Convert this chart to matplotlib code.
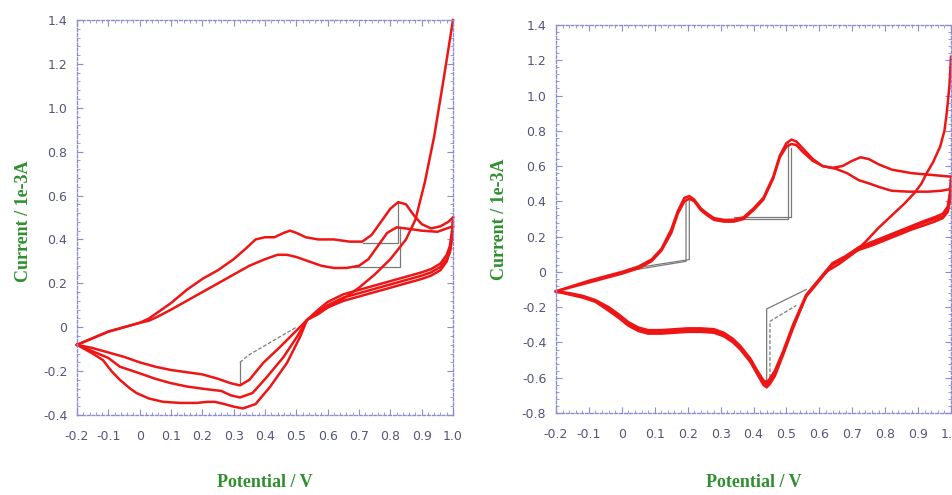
import matplotlib
matplotlib.use("Agg")
import matplotlib.pyplot as plt
from matplotlib.ticker import MultipleLocator, FuncFormatter

# ---------------- LEFT PANEL DATA ----------------
A_steep_x = [0.54, 0.60, 0.65, 0.70, 0.75, 0.80, 0.85, 0.88, 0.91, 0.94, 0.97, 1.00]
A_steep_y = [0.04, 0.09, 0.13, 0.18, 0.24, 0.31, 0.40, 0.49, 0.66, 0.87, 1.13, 1.40]

A_fwd1_x = [-0.2, -0.15, -0.1, -0.05, 0.0, 0.03, 0.06, 0.1, 0.15, 0.2, 0.25, 0.3, 0.34, 0.37,
            0.4, 0.43, 0.46, 0.48, 0.5, 0.53, 0.57, 0.62, 0.67, 0.71, 0.74, 0.77, 0.8, 0.825,
            0.85, 0.875, 0.9, 0.93, 0.96, 0.985, 1.0]
A_fwd1_y = [-0.08, -0.05, -0.02, 0.0, 0.02, 0.04, 0.07, 0.11, 0.17, 0.22, 0.26, 0.31, 0.36, 0.40,
            0.41, 0.41, 0.43, 0.44, 0.43, 0.41, 0.40, 0.40, 0.39, 0.39, 0.42, 0.48, 0.54, 0.57,
            0.56, 0.51, 0.47, 0.45, 0.46, 0.48, 0.50]

A_fwd2_x = [-0.2, -0.15, -0.1, -0.05, 0.0, 0.03, 0.06, 0.1, 0.15, 0.2, 0.25, 0.3, 0.35, 0.4,
            0.44, 0.47, 0.5, 0.54, 0.58, 0.62, 0.66, 0.7, 0.73, 0.76, 0.79, 0.82, 0.85, 0.9,
            0.95, 1.0]
A_fwd2_y = [-0.08, -0.05, -0.02, 0.0, 0.02, 0.03, 0.05, 0.08, 0.12, 0.16, 0.20, 0.24, 0.28, 0.31,
            0.33, 0.33, 0.32, 0.30, 0.28, 0.27, 0.27, 0.28, 0.31, 0.37, 0.43, 0.455, 0.45, 0.44,
            0.435, 0.46]

A_rev1_x = [1.0, 0.997, 0.99, 0.98, 0.96, 0.93, 0.9, 0.85, 0.8, 0.75, 0.7, 0.65, 0.6, 0.57,
            0.534, 0.502, 0.448, 0.394, 0.35, 0.32, 0.29, 0.25, 0.2, 0.15, 0.1, 0.05, 0.0,
            -0.05, -0.1, -0.15, -0.2]
A_rev1_y = [0.50, 0.44, 0.37, 0.33, 0.29, 0.265, 0.25, 0.23, 0.21, 0.19, 0.17, 0.15, 0.115, 0.08,
            0.033, -0.013, -0.09, -0.163, -0.24, -0.265, -0.255, -0.235, -0.215, -0.205, -0.195,
            -0.18, -0.16, -0.135, -0.115, -0.095, -0.08]

A_rev2_x = [1.0, 0.997, 0.99, 0.98, 0.96, 0.93, 0.9, 0.85, 0.8, 0.75, 0.7, 0.65, 0.6, 0.57,
            0.534, 0.502, 0.459, 0.406, 0.36, 0.32, 0.29, 0.26, 0.234, 0.2, 0.15, 0.097, 0.05,
            0.0, -0.063, -0.1, -0.15, -0.2]
A_rev2_y = [0.46, 0.40, 0.34, 0.31, 0.275, 0.25, 0.235, 0.215, 0.195, 0.175, 0.155, 0.135, 0.10,
            0.07, 0.033, -0.044, -0.136, -0.227, -0.30, -0.32, -0.31, -0.29, -0.286, -0.28,
            -0.27, -0.254, -0.235, -0.21, -0.18, -0.14, -0.11, -0.08]

A_rev3_x = [1.0, 0.997, 0.99, 0.98, 0.96, 0.93, 0.9, 0.85, 0.8, 0.75, 0.7, 0.65, 0.6, 0.57,
            0.534, 0.512, 0.47, 0.416, 0.37, 0.33, 0.3, 0.27, 0.24, 0.215, 0.183, 0.13, 0.075,
            0.03, -0.01, -0.03, -0.063, -0.09, -0.117, -0.15, -0.2]
A_rev3_y = [0.48, 0.42, 0.35, 0.30, 0.26, 0.235, 0.22, 0.20, 0.18, 0.16, 0.14, 0.12, 0.09, 0.06,
            0.033, -0.044, -0.163, -0.272, -0.35, -0.37, -0.362, -0.35, -0.34, -0.34, -0.345,
            -0.345, -0.34, -0.325, -0.30, -0.28, -0.24, -0.20, -0.15, -0.12, -0.08]

A_base1_x = [0.713, 0.825, 0.825]
A_base1_y = [0.384, 0.384, 0.57]
A_base2_x = [0.68, 0.830, 0.830]
A_base2_y = [0.275, 0.275, 0.455]
A_base3_x = [0.32, 0.32]
A_base3_y = [-0.265, -0.16]
A_base4_x = [0.32, 0.35, 0.50]
A_base4_y = [-0.16, -0.125, 0.0]

# ---------------- RIGHT PANEL DATA ----------------
B_steep_x = [0.62, 0.66, 0.70, 0.74, 0.78, 0.82, 0.86, 0.89, 0.91, 0.926, 0.945, 0.967, 0.98,
             0.987, 0.995, 1.0]
B_steep_y = [0.0, 0.045, 0.10, 0.17, 0.25, 0.32, 0.39, 0.45, 0.50, 0.56, 0.62, 0.71, 0.80,
             0.90, 1.05, 1.22]

B_fwd1_x = [-0.2, -0.15, -0.1, -0.05, 0.0, 0.05, 0.09, 0.12, 0.15, 0.17, 0.19, 0.205, 0.22,
            0.24, 0.26, 0.28, 0.31, 0.34, 0.37, 0.40, 0.43, 0.46, 0.48, 0.5, 0.515, 0.53,
            0.55, 0.58, 0.61, 0.64, 0.67, 0.7, 0.725, 0.75, 0.78, 0.82, 0.88, 0.94, 1.0]
B_fwd1_y = [-0.11, -0.08, -0.05, -0.025, 0.0, 0.03, 0.07, 0.13, 0.24, 0.345, 0.42, 0.43, 0.41,
            0.36, 0.33, 0.305, 0.295, 0.295, 0.31, 0.36, 0.42, 0.54, 0.66, 0.73, 0.75, 0.74,
            0.70, 0.64, 0.60, 0.59, 0.60, 0.63, 0.65, 0.64, 0.61, 0.58, 0.56, 0.55, 0.54]

B_fwd2_x = [-0.2, -0.15, -0.1, -0.05, 0.0, 0.05, 0.09, 0.12, 0.15, 0.17, 0.19, 0.205, 0.22,
            0.24, 0.26, 0.28, 0.31, 0.34, 0.37, 0.40, 0.43, 0.46, 0.48, 0.5, 0.515, 0.53,
            0.55, 0.58, 0.61, 0.65, 0.684, 0.72, 0.754, 0.784, 0.82, 0.87, 0.93, 0.97, 1.0]
B_fwd2_y = [-0.11, -0.085, -0.06, -0.035, -0.01, 0.02, 0.06, 0.12, 0.22, 0.33, 0.40, 0.415, 0.40,
            0.35, 0.32, 0.295, 0.285, 0.285, 0.30, 0.35, 0.41, 0.53, 0.65, 0.71, 0.725, 0.72,
            0.68, 0.63, 0.60, 0.585, 0.56, 0.52, 0.50, 0.48, 0.46, 0.455, 0.455, 0.46, 0.47]

B_rev1_x = [1.0, 0.997, 0.99, 0.975, 0.95, 0.92, 0.88, 0.84, 0.8, 0.76, 0.72, 0.68, 0.64,
            0.60, 0.56, 0.52, 0.49, 0.465, 0.45, 0.44, 0.43, 0.41, 0.39, 0.36, 0.338, 0.31,
            0.28, 0.24, 0.2, 0.16, 0.12, 0.08, 0.05, 0.02, -0.01, -0.04, -0.08, -0.12, -0.16, -0.2]
B_rev1_y = [0.54, 0.45, 0.37, 0.33, 0.31, 0.29, 0.26, 0.23, 0.20, 0.17, 0.14, 0.09, 0.05,
            -0.04, -0.13, -0.30, -0.45, -0.56, -0.605, -0.625, -0.615, -0.555, -0.49, -0.42,
            -0.38, -0.345, -0.325, -0.32, -0.32, -0.325, -0.33, -0.33, -0.315, -0.285, -0.24,
            -0.20, -0.16, -0.135, -0.12, -0.11]

B_rev2_x = [1.0, 0.997, 0.99, 0.975, 0.95, 0.92, 0.88, 0.84, 0.8, 0.76, 0.72, 0.68, 0.64,
            0.60, 0.56, 0.52, 0.49, 0.465, 0.45, 0.44, 0.43, 0.41, 0.39, 0.36, 0.338, 0.31,
            0.28, 0.24, 0.2, 0.16, 0.12, 0.08, 0.05, 0.02, -0.01, -0.04, -0.08, -0.12, -0.16, -0.2]
B_rev2_y = [0.47, 0.40, 0.34, 0.305, 0.285, 0.265, 0.24, 0.21, 0.18, 0.15, 0.125, 0.08, 0.04,
            -0.05, -0.14, -0.31, -0.46, -0.575, -0.62, -0.64, -0.625, -0.565, -0.50, -0.43,
            -0.39, -0.355, -0.335, -0.33, -0.33, -0.335, -0.34, -0.34, -0.325, -0.295, -0.25,
            -0.21, -0.165, -0.14, -0.125, -0.11]

B_rev3_x = [1.0, 0.997, 0.99, 0.975, 0.95, 0.92, 0.88, 0.84, 0.8, 0.76, 0.72, 0.68, 0.64,
            0.60, 0.56, 0.52, 0.49, 0.465, 0.45, 0.44, 0.43, 0.41, 0.39, 0.36, 0.338, 0.31,
            0.28, 0.24, 0.2, 0.16, 0.12, 0.08, 0.05, 0.02, -0.01, -0.04, -0.08, -0.12, -0.16, -0.2]
B_rev3_y = [0.50, 0.42, 0.35, 0.315, 0.30, 0.28, 0.25, 0.22, 0.19, 0.16, 0.13, 0.085, 0.045,
            -0.045, -0.135, -0.32, -0.47, -0.59, -0.635, -0.655, -0.64, -0.575, -0.51, -0.44,
            -0.40, -0.365, -0.345, -0.34, -0.34, -0.345, -0.35, -0.35, -0.335, -0.305, -0.26,
            -0.22, -0.17, -0.145, -0.128, -0.11]

B_base1_x = [0.0, 0.195, 0.195]
B_base1_y = [0.0, 0.06, 0.425]
B_base2_x = [0.05, 0.205, 0.205]
B_base2_y = [0.025, 0.07, 0.41]
B_base3_x = [0.32, 0.505, 0.505]
B_base3_y = [0.30, 0.30, 0.73]
B_base4_x = [0.34, 0.515, 0.515]
B_base4_y = [0.31, 0.31, 0.70]
B_base5_x = [0.44, 0.44, 0.56]
B_base5_y = [-0.63, -0.21, -0.10]
B_base6_x = [0.45, 0.45, 0.53]
B_base6_y = [-0.60, -0.28, -0.19]

# ---------------- STYLE ----------------
RED = "#ee1515"
GRAY = "#7a7a7a"
FRAME = "#8c8cd2"
TICKTXT = "#55557a"
GREEN = "#2f8f2f"

fig = plt.figure(figsize=(9.53, 4.95), dpi=100)
axA = fig.add_axes([77/953, 1-415/495, 376/953, 395/495])
axB = fig.add_axes([556/953, 1-413/495, 395/953, 388/495])


def fmt(v, pos):
    if abs(v) < 1e-9:
        return "0"
    return f"{v:.1f}"


def style(ax, ymin, ymax):
    ax.set_xlim(-0.2, 1.0)
    ax.set_ylim(ymin, ymax)
    for s in ax.spines.values():
        s.set_linestyle((0, (2, 1.5)))
        s.set_color(FRAME)
        s.set_linewidth(1.0)
    ax.xaxis.set_major_locator(MultipleLocator(0.1))
    ax.xaxis.set_minor_locator(MultipleLocator(0.02))
    ax.yaxis.set_major_locator(MultipleLocator(0.2))
    ax.yaxis.set_minor_locator(MultipleLocator(0.04))
    ax.xaxis.set_major_formatter(FuncFormatter(fmt))
    ax.yaxis.set_major_formatter(FuncFormatter(fmt))
    ax.tick_params(which="both", direction="in", top=True, right=True, color=FRAME)
    ax.tick_params(which="major", length=4, width=0.8)
    ax.tick_params(which="minor", length=2, width=0.6)
    ax.tick_params(axis="x", which="major", pad=11, labelsize=9, labelcolor=TICKTXT)
    ax.tick_params(axis="y", which="major", pad=7, labelsize=9, labelcolor=TICKTXT)
    for lab in ax.get_xticklabels() + ax.get_yticklabels():
        lab.set_family(["Liberation Sans Narrow", "DejaVu Sans"])
    ax.set_xlabel("Potential / V", family="Liberation Serif", fontweight="bold",
                  fontsize=13, color=GREEN)
    ax.set_ylabel("Current / 1e-3A", family="Liberation Serif", fontweight="bold",
                  fontsize=13, color=GREEN)


style(axA, -0.4, 1.4)
style(axB, -0.8, 1.4)
axA.xaxis.set_label_coords(0.5, -0.172)
axB.xaxis.set_label_coords(0.5, -0.180)
axA.yaxis.set_label_coords(-0.143, 0.49)
axB.yaxis.set_label_coords(-0.142, 0.50)
axA.xaxis.label.set_va("center")
axB.xaxis.label.set_va("center")
axA.yaxis.label.set_va("center")
axB.yaxis.label.set_va("center")

lw_g = 0.9
# gray baseline markers
axA.plot(A_base1_x, A_base1_y, color=GRAY, lw=lw_g)
axA.plot(A_base2_x, A_base2_y, color=GRAY, lw=lw_g)
axA.plot(A_base3_x, A_base3_y, color=GRAY, lw=lw_g)
axA.plot(A_base4_x, A_base4_y, color=GRAY, lw=lw_g, ls=(0, (3, 1.5)))

axB.plot(B_base1_x, B_base1_y, color=GRAY, lw=lw_g)
axB.plot(B_base2_x, B_base2_y, color=GRAY, lw=lw_g)
axB.plot(B_base3_x, B_base3_y, color=GRAY, lw=lw_g)
axB.plot(B_base4_x, B_base4_y, color=GRAY, lw=lw_g)
axB.plot(B_base5_x, B_base5_y, color=GRAY, lw=lw_g)
axB.plot(B_base6_x, B_base6_y, color=GRAY, lw=lw_g, ls=(0, (3, 1.5)))

lw_r = 1.8
for xs, ys in [(A_steep_x, A_steep_y), (A_fwd1_x, A_fwd1_y), (A_fwd2_x, A_fwd2_y),
               (A_rev1_x, A_rev1_y), (A_rev2_x, A_rev2_y), (A_rev3_x, A_rev3_y)]:
    axA.plot(xs, ys, color=RED, lw=lw_r, solid_joinstyle="round", clip_on=False)

for xs, ys in [(B_steep_x, B_steep_y), (B_fwd1_x, B_fwd1_y), (B_fwd2_x, B_fwd2_y),
               (B_rev1_x, B_rev1_y), (B_rev2_x, B_rev2_y), (B_rev3_x, B_rev3_y)]:
    axB.plot(xs, ys, color=RED, lw=lw_r, solid_joinstyle="round", clip_on=False)

fig.savefig("out.png", dpi=100)
